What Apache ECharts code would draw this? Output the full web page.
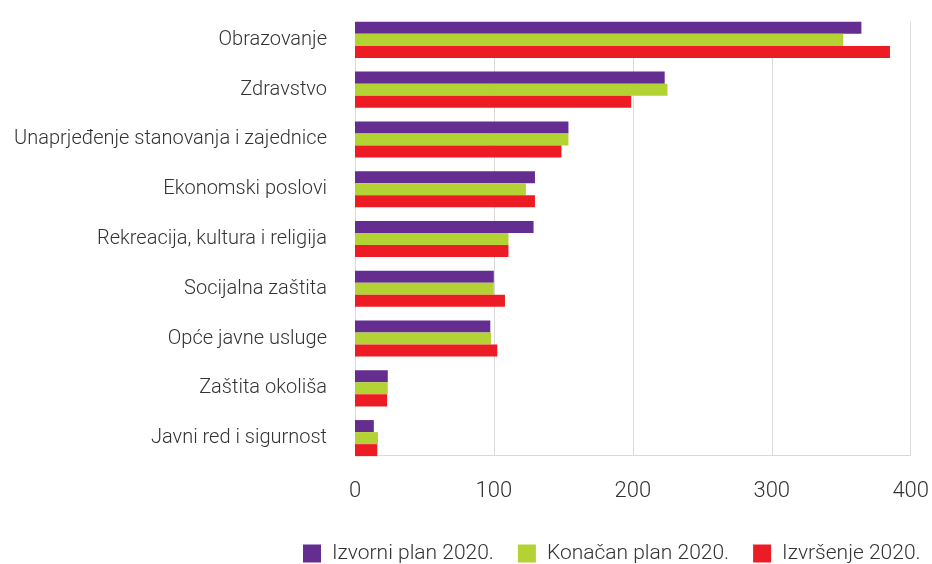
<!DOCTYPE html>
<html>
<head>
<meta charset="utf-8">
<script src="https://cdn.jsdelivr.net/npm/echarts@6/dist/echarts.min.js"></script>
<style>
  html, body { margin: 0; padding: 0; background: #fff; }
  #chart { width: 932px; height: 564px; }
</style>
</head>
<body>
<div id="chart"></div>
<script>
// Categories, top to bottom
const categories = [
  'Obrazovanje',
  'Zdravstvo',
  'Unaprjeđenje stanovanja i zajednice',
  'Ekonomski poslovi',
  'Rekreacija, kultura i religija',
  'Socijalna zaštita',
  'Opće javne usluge',
  'Zaštita okoliša',
  'Javni red i sigurnost'
];

const izvorniPlan = [363, 222, 153, 129, 128, 99.5, 97, 23.5, 13.5];
const konacanPlan = [350, 224, 153, 122.5, 110, 99.5, 97.5, 23.5, 16.5];
const izvrsenje   = [383.5, 198, 148, 129, 110, 107.5, 102, 23, 16];

const seriesNames = ['Izvorni plan 2020.', 'Konačan plan 2020.', 'Izvršenje 2020.'];
const seriesColors = ['#652D90', '#B3D334', '#ED1C24'];
const xTicks = [0, 100, 200, 300, 400];

const FONT = 'Roboto';
const TEXT = '#333333';

const chart = echarts.init(document.getElementById('chart'));

const seriesData = [izvorniPlan, konacanPlan, izvrsenje];

chart.setOption({
  animation: false,
  textStyle: { fontFamily: FONT },
  legend: {
    data: seriesNames,
    left: 298,
    top: 538,
    itemWidth: 18,
    itemHeight: 18,
    itemGap: 24,
    icon: 'rect',
    textStyle: { fontFamily: FONT, fontSize: 21, fontWeight: 300, color: TEXT, padding: [0, 0, 0, 6] }
  },
  grid: [
    // bars
    { left: 355, right: 19, top: 15, height: 448, containLabel: false },
    // value scale, gridlines and baseline
    { left: 355, right: 19, top: 22, height: 433, containLabel: false }
  ],
  xAxis: [
    {
      gridIndex: 0, type: 'value', min: 0, max: 400, interval: 100,
      show: false
    },
    {
      gridIndex: 1, type: 'value', min: 0, max: 400, interval: 100,
      axisLine: { show: true, lineStyle: { color: '#d9d9d9', width: 1 } },
      axisTick: { show: false },
      splitLine: { show: true, lineStyle: { color: '#d9d9d9', width: 1 } },
      axisLabel: {
        margin: 25, fontFamily: FONT, fontSize: 22, fontWeight: 300, color: TEXT,
        formatter: v => xTicks.includes(v) ? String(v) : ''
      }
    }
  ],
  yAxis: [
    {
      gridIndex: 0, type: 'category', data: categories, inverse: true,
      axisLine: { show: false }, axisTick: { show: false },
      axisLabel: { margin: 28, fontFamily: FONT, fontSize: 20, fontWeight: 300, color: TEXT }
    },
    {
      gridIndex: 1, type: 'value', min: 0, max: 1, show: false
    }
  ],
  series: seriesData.map((d, i) => ({
    name: seriesNames[i],
    type: 'bar',
    xAxisIndex: 0,
    yAxisIndex: 0,
    data: d,
    itemStyle: { color: seriesColors[i] },
    barGap: '0%',
    barCategoryGap: '27.5%',
    z: 3
  }))
});
</script>
</body>
</html>
